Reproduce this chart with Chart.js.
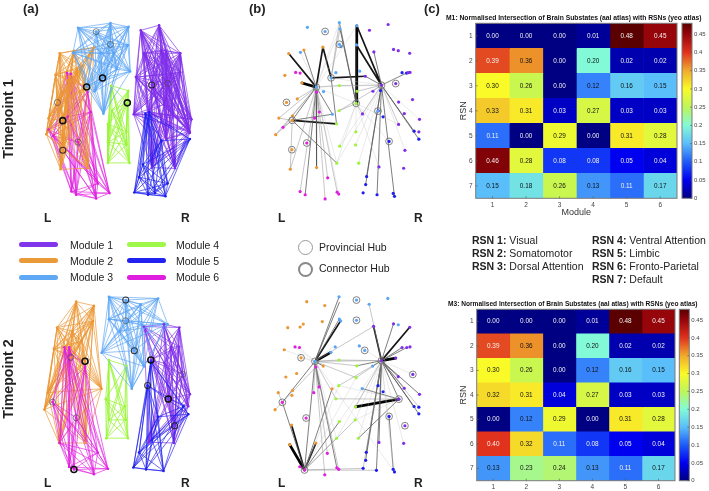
<!DOCTYPE html>
<html><head><meta charset="utf-8">
<script src="https://cdn.jsdelivr.net/npm/chart.js@4"></script>
<style>
html,body{margin:0;padding:0;background:#fff;width:709px;height:491px;overflow:hidden;font-family:"Liberation Sans",Arial,sans-serif;color:#222}
canvas{position:absolute}
.t{position:absolute;white-space:nowrap;line-height:1}
.b{font-weight:bold}
.key{position:absolute;width:39px;height:5px;border-radius:2.5px}
.ring{position:absolute;border-radius:50%;box-sizing:border-box}
</style></head><body>
<canvas id="a1" width="240" height="240" style="left:0;top:0"></canvas>
<canvas id="a2" width="240" height="261" style="left:0;top:230px"></canvas>
<canvas id="b1" width="200" height="240" style="left:240px;top:0"></canvas>
<canvas id="b2" width="200" height="261" style="left:240px;top:230px"></canvas>
<canvas id="m1" width="240" height="225" style="left:440px;top:0"></canvas>
<canvas id="m3" width="240" height="195" style="left:440px;top:296px"></canvas>
<canvas id="c1" width="29" height="190" style="left:680px;top:15px"></canvas>
<canvas id="c3" width="32" height="187" style="left:677px;top:301px"></canvas>

<div class="t b" style="left:23px;top:2px;font-size:13px">(a)</div>
<div class="t b" style="left:249px;top:2px;font-size:13px">(b)</div>
<div class="t b" style="left:424px;top:2px;font-size:13px">(c)</div>
<div class="t b" style="left:8px;top:119px;font-size:14.2px;transform:translate(-50%,-50%) rotate(-90deg)">Timepoint 1</div>
<div class="t b" style="left:8px;top:379px;font-size:14.2px;transform:translate(-50%,-50%) rotate(-90deg)">Timepoint 2</div>
<div class="t b" style="left:44px;top:212px;font-size:12px">L</div>
<div class="t b" style="left:181px;top:212px;font-size:12px">R</div>
<div class="t b" style="left:278px;top:212px;font-size:12px">L</div>
<div class="t b" style="left:414px;top:212px;font-size:12px">R</div>
<div class="t b" style="left:44px;top:477px;font-size:12px">L</div>
<div class="t b" style="left:181px;top:477px;font-size:12px">R</div>
<div class="t b" style="left:278px;top:477px;font-size:12px">L</div>
<div class="t b" style="left:414px;top:477px;font-size:12px">R</div>

<div class="key" style="left:19px;top:242px;background:#8236eb"></div><div class="t" style="left:70px;top:239.5px;font-size:10.5px">Module 1</div>
<div class="key" style="left:19px;top:258px;background:#eb9a3a"></div><div class="t" style="left:70px;top:255.5px;font-size:10.5px">Module 2</div>
<div class="key" style="left:19px;top:275px;background:#5fa8f5"></div><div class="t" style="left:70px;top:271.5px;font-size:10.5px">Module 3</div>
<div class="key" style="left:127px;top:242px;background:#9ff74a"></div><div class="t" style="left:176px;top:239.5px;font-size:10.5px">Module 4</div>
<div class="key" style="left:127px;top:258px;background:#2222f0"></div><div class="t" style="left:176px;top:255.5px;font-size:10.5px">Module 5</div>
<div class="key" style="left:127px;top:275px;background:#e01ee0"></div><div class="t" style="left:176px;top:271.5px;font-size:10.5px">Module 6</div>

<div class="ring" style="left:298px;top:240px;width:15px;height:15px;border:1px solid #999"></div>
<div class="t" style="left:319px;top:242px;font-size:10.5px">Provincial Hub</div>
<div class="ring" style="left:298px;top:262px;width:15px;height:15px;border:2px solid #888"></div>
<div class="t" style="left:319px;top:263px;font-size:10.5px">Connector Hub</div>

<div class="t" style="left:472px;top:234.5px;font-size:10.5px"><b>RSN 1:</b> Visual</div>
<div class="t" style="left:472px;top:247.5px;font-size:10.5px"><b>RSN 2:</b> Somatomotor</div>
<div class="t" style="left:472px;top:260.5px;font-size:10.5px"><b>RSN 3:</b> Dorsal Attention</div>
<div class="t" style="left:592px;top:234.5px;font-size:10.5px"><b>RSN 4:</b> Ventral Attention</div>
<div class="t" style="left:592px;top:247.5px;font-size:10.5px"><b>RSN 5:</b> Limbic</div>
<div class="t" style="left:592px;top:260.5px;font-size:10.5px"><b>RSN 6:</b> Fronto-Parietal</div>
<div class="t" style="left:592px;top:273.5px;font-size:10.5px"><b>RSN 7:</b> Default</div>

<div class="t b" style="left:446px;top:15px;font-size:6.75px;color:#111">M1: Normalised Intersection of Brain Substates (aal atlas) with RSNs (yeo atlas)</div>
<div class="t b" style="left:448px;top:301px;font-size:6.6px;color:#111">M3: Normalised Intersection of Brain Substates (aal atlas) with RSNs (yeo atlas)</div>

<script>
// ---------- heat-map values ----------
const moduleLabels = ['1','2','3','4','5','6'];
const rsnLabels = ['1','2','3','4','5','6','7'];
const m1Values = [
 [0.00,0.00,0.00,0.01,0.48,0.45],
 [0.39,0.36,0.00,0.20,0.02,0.02],
 [0.30,0.26,0.00,0.12,0.16,0.15],
 [0.33,0.31,0.03,0.27,0.03,0.03],
 [0.11,0.00,0.29,0.00,0.31,0.28],
 [0.46,0.28,0.08,0.08,0.05,0.04],
 [0.15,0.18,0.26,0.13,0.11,0.17]];
const m3Values = [
 [0.00,0.00,0.00,0.01,0.48,0.45],
 [0.39,0.36,0.00,0.20,0.02,0.02],
 [0.30,0.26,0.00,0.12,0.16,0.15],
 [0.32,0.31,0.04,0.27,0.03,0.03],
 [0.00,0.12,0.29,0.00,0.31,0.28],
 [0.40,0.32,0.11,0.08,0.05,0.04],
 [0.13,0.23,0.24,0.13,0.11,0.17]];
const colorbarTicks = [0,0.05,0.1,0.15,0.2,0.25,0.3,0.35,0.4,0.45];
const colorMax = 0.48;
const colormapStops = [[0,0,0,130],[0.05,0,0,240],[0.1,30,90,250],[0.15,90,190,250],[0.2,130,250,215],[0.25,190,245,90],[0.3,250,250,40],[0.35,240,170,45],[0.4,225,50,30],[0.45,150,5,10],[0.48,90,0,0]];

// ---------- module colours ----------
const cPurple='#7f2ee8', cOrange='#eb9632', cSky='#5aa5f5', cGreen='#9cf53c', cBlue='#1e1eee', cPink='#e01ee0';

// ---------- panel (a) nodes, timepoint 1 ----------
const a1Sky=[[228,70],[330,55],[387,67],[285,82],[330,118],[385,125],[212,148],[300,150],[392,207],[305,228],[255,255],[280,270],[308,340],[340,150],[350,200]];
const a1Orange=[[170,150],[215,142],[278,132],[157,218],[200,225],[163,305],[135,355],[128,405],[180,362],[180,455],[173,515],[260,512],[255,256],[190,300],[225,200],[240,190]];
const a1Pink=[[193,212],[205,215],[258,272],[268,335],[228,430],[207,585],[222,595],[285,607],[327,590],[290,560],[135,390],[150,410],[195,350]];
const a1Green=[[332,252],[386,268],[383,306],[322,373],[380,397],[322,430],[380,437],[322,495],[390,495],[335,330]];
const a1Purple=[[425,78],[483,62],[435,150],[490,140],[505,142],[550,150],[410,225],[460,250],[520,215],[550,210],[510,245],[403,342],[450,335],[500,310],[528,345],[585,358],[578,395],[460,510],[533,512],[505,420],[580,400]];
const a1Blue=[[405,588],[448,595],[470,590],[503,600],[420,540],[452,335],[490,425],[580,420],[510,560],[432,500],[440,340]];
const a1HubsStrong=[[305,228],[255,256],[180,362],[383,306]];
const a1HubsMid=[[180,455],[460,250]];
const a1HubsWeak=[[163,305],[285,82],[330,122],[228,430],[510,245]];

// ---------- panel (a) nodes, timepoint 2 ----------
const a2Sky=[[325,192],[378,202],[480,197],[378,267],[425,215],[510,278],[302,367],[405,361],[397,480],[325,262],[435,410],[360,300],[430,280]];
const a2Orange=[[222,207],[278,220],[275,268],[162,288],[205,382],[250,394],[152,355],[302,480],[133,492],[122,545],[168,650],[252,650],[190,350],[210,300],[240,330]];
const a2Pink=[[185,350],[200,350],[250,410],[148,522],[222,571],[170,650],[200,725],[215,733],[278,748],[322,731],[290,680]];
const a2Green=[[325,390],[380,408],[315,512],[375,535],[325,578],[378,577],[317,635],[385,635]];
const a2Purple=[[435,285],[498,278],[547,288],[457,390],[520,350],[545,348],[557,435],[580,497],[512,512],[575,535],[450,648],[530,650],[532,596],[500,400]];
const a2Blue=[[457,395],[447,470],[402,727],[442,733],[497,738],[575,560],[480,568],[560,535],[460,640],[420,680]];
const a2HubsStrong=[[250,394],[215,733],[457,390],[512,512]];
const a2HubsMid=[[405,361],[447,470],[532,596],[378,202]];
const a2HubsWeak=[[378,267],[205,382],[148,522],[222,571],[557,435]];

// ---------- panel (b) nodes, timepoint 1 ----------
const b1Sky=[[197,70],[253,83],[298,55],[300,75],[353,65],[298,123],[303,130],[352,125],[175,148],[272,228],[287,212],[362,207],[248,271],[225,257],[276,342],[420,332]];
const b1Orange=[[138,152],[186,141],[246,132],[126,220],[180,244],[131,305],[165,294],[107,354],[150,347],[97,406],[149,361],[148,453],[143,514],[226,509]];
const b1Pink=[[160,211],[174,213],[226,273],[235,335],[220,354],[120,383],[195,432],[174,584],[190,594],[253,607],[291,586],[296,592],[261,541]];
const b1Green=[[298,252],[354,270],[351,308],[297,331],[289,372],[350,397],[299,442],[349,438],[290,495],[359,495]];
const b1Purple=[[393,79],[452,61],[407,147],[469,139],[484,143],[520,151],[380,223],[431,251],[476,246],[515,212],[521,211],[404,270],[371,341],[485,304],[529,296],[503,340],[551,358],[485,374],[423,507],[501,511],[505,455],[549,397]];
const b1Blue=[[496,212],[510,213],[428,268],[421,331],[436,350],[455,427],[534,395],[549,420],[384,537],[381,562],[373,588],[417,594],[468,590],[472,599]];
const b1Rings=[[253,83],[298,123],[272,228],[225,257],[131,305],[149,361],[148,453],[195,432],[351,308],[431,251],[476,246],[420,332],[455,427]];
const A1=[225,257],B1=[272,228],C1=[149,361],D1=[351,308],E1=[431,251];
const b1Edges4=[[A1,[180,244]],[D1,[353,65]]];
const b1Edges2=[[A1,[138,152]],[A1,[246,132]],[B1,[380,223]],[C1,[289,372]],[E1,[353,65]],[D1,[352,125]],[E1,[352,125]],[B1,[246,132]]];
const b1Edges1=[[C1,[276,342]],[A1,C1],[E1,[510,213]],[D1,[300,75]],[D1,[298,55]],[A1,[186,141]],[A1,[190,594]],[A1,[226,509]],[E1,[384,537]],[E1,[381,562]],[E1,[417,594]],[E1,[472,599]],[E1,[549,420]],[E1,[534,395]],[A1,[276,342]],[C1,[290,495]],[E1,[380,223]],[D1,[354,270]],[B1,[289,372]],[E1,[407,147]]];
const b1EdgesLight=[[A1,[298,252]],[A1,[165,294]],[A1,[107,354]],[A1,[97,406]],[A1,[120,383]],[A1,[226,273]],[A1,[235,335]],[A1,[220,354]],[A1,[174,584]],[A1,[253,607]],[A1,[261,541]],[A1,[291,586]],[A1,[143,514]],[B1,[300,75]],[B1,[298,55]],[E1,[354,270]],[E1,[404,270]],[E1,[298,252]],[E1,[371,341]],[E1,[297,331]],[E1,[485,374]],[D1,[297,331]],[D1,[371,341]],[C1,[107,354]],[C1,[97,406]],[C1,[120,383]],[C1,[150,347]],[C1,[143,514]]];
const b1EdgesFaint=[[E1,[290,495]],[E1,[349,438]],[E1,[299,442]],[E1,[359,495]],[D1,[299,442]],[D1,[290,495]],[D1,[350,397]],[A1,[290,495]],[A1,[298,55]],[A1,[300,75]],[A1,[353,65]],[E1,[505,455]],[E1,[423,507]],[D1,[423,507]],[D1,[455,427]],[A1,D1],[A1,E1],[B1,E1],[E1,[551,358]],[A1,[175,148]],[A1,[296,592]],[E1,[515,212]],[D1,[485,374]]];

// ---------- panel (b) nodes, timepoint 2 ----------
const b2Sky=[[297,193],[352,203],[451,198],[392,216],[298,262],[302,268],[352,266],[378,360],[361,346],[285,349],[271,366],[221,394],[403,409],[370,479],[484,280]];
const b2Orange=[[195,208],[252,220],[244,270],[135,289],[174,287],[184,278],[124,358],[177,383],[247,409],[129,443],[163,432],[105,492],[150,485],[148,500],[95,545],[275,480],[147,593],[141,654],[224,649]];
const b2Pink=[[158,349],[172,351],[224,412],[234,474],[217,492],[118,522],[193,571],[260,681],[173,723],[188,733],[252,748],[290,726],[296,731]];
const b2Green=[[297,390],[353,408],[351,445],[296,470],[287,511],[349,536],[298,582],[348,577],[289,634],[358,634]];
const b2Purple=[[406,285],[469,277],[520,288],[496,351],[511,351],[521,349],[476,384],[431,392],[530,435],[484,442],[503,478],[551,497],[486,512],[505,595],[423,647],[501,650]];
const b2Blue=[[420,470],[436,489],[534,535],[549,537],[549,558],[455,566],[383,678],[381,703],[373,728],[415,734],[468,731],[472,739]];
const b2Rings=[[352,203],[352,266],[378,360],[221,394],[177,383],[118,522],[193,571],[188,733],[431,392],[530,435],[486,512],[455,566],[505,595]];
const A2=[221,394],E2=[431,392],F2=[486,512],G2=[188,733],H2=[118,522];
const b2Edges4=[[A2,[271,366]],[E2,[476,384]],[F2,[349,536]],[G2,[141,654]]];
const b2Edges2=[[G2,[224,649]],[G2,[147,593]],[E2,[520,288]],[E2,[406,285]],[A2,[302,268]]];
const b2Edges1=[[A2,[297,193]],[A2,[298,210]],[A2,[298,262]],[E2,[496,351]],[E2,[511,351]],[E2,[469,277]],[A2,G2],[E2,[420,470]],[E2,[383,678]],[E2,[381,703]],[E2,[415,734]],[E2,[423,647]],[E2,[549,558]],[E2,[534,535]],[E2,[551,497]],[E2,[503,478]],[E2,[484,442]],[E2,F2],[F2,[370,479]],[F2,[358,634]],[G2,[298,582]],[G2,[275,480]],[A2,[247,409]],[A2,[290,726]],[A2,[234,474]],[H2,A2],[E2,[403,409]],[E2,[353,408]],[[455,566],[468,731]],[H2,G2]];
const b2EdgesLight=[[A2,[297,390]],[A2,[353,408]],[A2,E2],[A2,[252,748]],[A2,[296,731]],[A2,[217,492]],[A2,[260,681]],[A2,[287,511]],[A2,[351,445]],[E2,[297,390]],[E2,[351,445]],[E2,[296,470]],[E2,[349,536]],[E2,[373,728]],[E2,[549,537]],[G2,[415,734]],[G2,[373,728]],[G2,[348,577]],[G2,[289,634]],[H2,[95,545]],[H2,[224,412]],[F2,[287,511]],[A2,[406,285]],[G2,[173,723]],[H2,[105,492]],[E2,[392,216]]];
const b2EdgesFaint=[[E2,[358,634]],[E2,[289,634]],[E2,[348,577]],[E2,[298,582]],[A2,[177,383]],[A2,[172,351]],[A2,[158,349]],[A2,[289,634]],[F2,[348,577]],[F2,[296,470]],[G2,[296,470]],[G2,[351,445]],[A2,[472,739]],[E2,[468,731]],[E2,[472,739]],[E2,[530,435]],[E2,[501,650]],[A2,[124,358]],[E2,[361,346]],[A2,[278,349]]];

// ---------- helpers ----------
const gap={x:null,y:null};
const P=p=>({x:p[0],y:p[1]});
const segs=list=>list.flatMap(e=>[P(e[0]),P(e[1]),gap]);
const clique=n=>{const out=[];for(let i=0;i<n.length;i++)for(let j=i+1;j<n.length;j++)out.push(P(n[i]),P(n[j]),gap);return out;};
const lineDs=(data,color,w)=>({type:'line',data,borderColor:color,borderWidth:w,pointRadius:0,spanGaps:false,fill:false,tension:0,order:2});
const dotDs=(nodes,color,r)=>({type:'scatter',data:nodes.map(P),backgroundColor:color,borderWidth:0,pointRadius:r,showLine:false,order:1});
const ringDs=(nodes,color,w,r)=>({type:'scatter',data:nodes.map(P),backgroundColor:'rgba(0,0,0,0)',borderColor:color,borderWidth:w,pointRadius:r,showLine:false,order:0});
const rgba=(hex,a)=>{const n=parseInt(hex.slice(1),16);return `rgba(${n>>16},${(n>>8)&255},${n&255},${a})`;};
function panel(id,xMax,yMax,datasets){
  new Chart(document.getElementById(id),{type:'scatter',data:{datasets},options:{
    responsive:false,animation:false,events:[],layout:{padding:0},
    plugins:{legend:{display:false},tooltip:{enabled:false},title:{display:false}},
    elements:{line:{borderCapStyle:'round'}},
    scales:{x:{type:'linear',min:0,max:xMax,display:false},y:{type:'linear',min:0,max:yMax,reverse:true,display:false}}}});
}
function netA(mods,strong,mid,weak){
  const ds=[];
  mods.forEach(([n,c,a])=>ds.push(lineDs(clique(n),rgba(c,a),0.95)));
  mods.forEach(([n,c])=>ds.push(dotDs(n,c,1.3)));
  ds.push(ringDs(weak,'rgba(70,70,70,.7)',0.9,3));
  ds.push(ringDs(mid,'rgba(30,30,30,.85)',1.1,3));
  ds.push(ringDs(strong,'#111',1.6,3));
  return ds;
}
function netB(mods,rings,e4,e2,e1,eL,eF){
  const ds=[lineDs(segs(eF),'rgba(190,190,190,.55)',0.6),lineDs(segs(eL),'rgba(140,140,140,.7)',0.7),
    lineDs(segs(e1),'rgba(85,85,85,.85)',0.9),lineDs(segs(e2),'#161616',1.7),lineDs(segs(e4),'#000',2.7)];
  mods.forEach(([n,c])=>ds.push(dotDs(n,c,1.6)));
  ds.push(ringDs(rings,'rgba(110,110,110,.85)',1,3.4));
  return ds;
}
panel('a1',720,720,netA([[a1Sky,cSky,.7],[a1Orange,cOrange,.72],[a1Pink,cPink,.68],[a1Green,cGreen,.85],[a1Blue,cBlue,.7],[a1Purple,cPurple,.7]],a1HubsStrong,a1HubsMid,a1HubsWeak));
panel('a2',720,783,netA([[a2Sky,cSky,.7],[a2Pink,cPink,.68],[a2Orange,cOrange,.72],[a2Green,cGreen,.85],[a2Blue,cBlue,.7],[a2Purple,cPurple,.7]],a2HubsStrong,a2HubsMid,a2HubsWeak));
panel('b1',600,720,netB([[b1Sky,cSky],[b1Orange,cOrange],[b1Pink,cPink],[b1Green,cGreen],[b1Purple,cPurple],[b1Blue,cBlue]],b1Rings,b1Edges4,b1Edges2,b1Edges1,b1EdgesLight,b1EdgesFaint));
panel('b2',600,783,netB([[b2Sky,cSky],[b2Orange,cOrange],[b2Pink,cPink],[b2Green,cGreen],[b2Purple,cPurple],[b2Blue,cBlue]],b2Rings,b2Edges4,b2Edges2,b2Edges1,b2EdgesLight,b2EdgesFaint));

// ---------- heat maps ----------
function cmap(v){
  const s=colormapStops;let i=0;
  while(i<s.length-2&&v>s[i+1][0])i++;
  const a=s[i],b=s[i+1],t=Math.max(0,Math.min(1,(v-a[0])/(b[0]-a[0])));
  const c=k=>Math.round(a[k]+(b[k]-a[k])*t);
  return `rgb(${c(1)},${c(2)},${c(3)})`;
}
const frame={id:'frame',afterDatasetsDraw(ch){
  const {ctx,chartArea:a}=ch;ctx.save();ctx.strokeStyle='#7a7a7a';ctx.lineWidth=1;
  ctx.strokeRect(a.left,a.top,a.right-a.left,a.bottom-a.top);
  ctx.strokeStyle='#555';ctx.lineWidth=.6;ctx.beginPath();
  Object.values(ch.scales).forEach(s=>{ if(!s.options.display) return;
    s.ticks.forEach((tk,i)=>{const p=s.getPixelForTick(i);
      if(s.axis==='x'){ctx.moveTo(p,a.bottom);ctx.lineTo(p,a.bottom-2);}
      else if(s.position==='left'){ctx.moveTo(a.left,p);ctx.lineTo(a.left+2,p);}
      else{ctx.moveTo(a.right,p);ctx.lineTo(a.right-2,p);}});});
  ctx.stroke();ctx.restore();}};
const cellText={id:'cellText',afterDatasetsDraw(ch,_,o){
  const {ctx}=ch;ctx.save();ctx.font='6.4px "Liberation Sans"';ctx.textAlign='center';ctx.textBaseline='middle';
  ch.data.datasets.forEach((d,c)=>ch.getDatasetMeta(c).data.forEach((el,r)=>{
    const v=o.values[r][c],p=el.getCenterPoint();
    ctx.fillStyle=(v<=0.11||v>=0.39)?'#f2f2f2':'#111';ctx.fillText(v.toFixed(2),p.x,p.y);}));
  ctx.restore();}};
function heat(id,values,yW,xH,top,right,xTitle){
  new Chart(document.getElementById(id),{type:'bar',
    data:{labels:rsnLabels,datasets:moduleLabels.map((m,c)=>({label:m,data:values.map(()=>[c,c+1]),
      backgroundColor:values.map(row=>cmap(row[c])),borderWidth:0,barPercentage:1,categoryPercentage:1,grouped:false}))},
    options:{indexAxis:'y',responsive:false,animation:false,events:[],layout:{padding:{top,right,left:0,bottom:0}},
      plugins:{legend:{display:false},tooltip:{enabled:false},cellText:{values}},
      scales:{
        x:{type:'linear',min:0,max:moduleLabels.length,position:'bottom',grid:{display:false,drawTicks:false},border:{display:false},
          afterBuildTicks:s=>{s.ticks=moduleLabels.map((m,i)=>({value:i+0.5}));},
          ticks:{callback:v=>moduleLabels[Math.floor(v)],font:{size:6.5,family:'Liberation Sans'},color:'#444',padding:3,maxRotation:0,autoSkip:false},
          afterFit:s=>{s.height=xH;},
          title:{display:!!xTitle,text:xTitle||'',font:{size:9,family:'Liberation Sans'},color:'#333',padding:{top:0,bottom:7}}},
        y:{type:'category',position:'left',grid:{display:false,drawTicks:false},border:{display:false},
          ticks:{font:{size:6.5,family:'Liberation Sans'},color:'#444',padding:3,autoSkip:false},
          afterFit:s=>{s.width=yW;},
          title:{display:true,text:'RSN',font:{size:9,family:'Liberation Sans'},color:'#333',padding:{top:18.5,bottom:0}}}
      }},plugins:[cellText,frame]});
}
heat('m1',m1Values,35.7,26.7,23.3,3,'Module');
heat('m3',m3Values,36.7,10.3,13.3,5,'');

function colorbar(id,axisW,left,top,bottom){
  new Chart(document.getElementById(id),{type:'bar',
    data:{labels:[''],datasets:[{data:[[0,colorMax]],borderWidth:0,barPercentage:1,categoryPercentage:1,
      backgroundColor:ctx=>{const a=ctx.chart.chartArea;if(!a)return '#000';
        const g=ctx.chart.ctx.createLinearGradient(0,a.bottom,0,a.top);
        colormapStops.forEach(s=>g.addColorStop(s[0]/colorMax,`rgb(${s[1]},${s[2]},${s[3]})`));return g;}}]},
    options:{responsive:false,animation:false,events:[],layout:{padding:{left,top,bottom,right:0}},
      plugins:{legend:{display:false},tooltip:{enabled:false}},
      scales:{x:{display:false},
        y:{type:'linear',position:'right',min:0,max:colorMax,grid:{display:false,drawTicks:false},border:{display:false},
          afterBuildTicks:s=>{s.ticks=colorbarTicks.map(value=>({value}));},
          ticks:{callback:v=>String(+(+v).toFixed(2)),font:{size:6,family:'Liberation Sans'},color:'#444',padding:2,autoSkip:false},
          afterFit:s=>{s.width=axisW;}}}},plugins:[frame]});
}
colorbar('c1',17,2,8.3,6.7);
colorbar('c3',19.7,2.3,8.3,7.3);
</script></body></html>
